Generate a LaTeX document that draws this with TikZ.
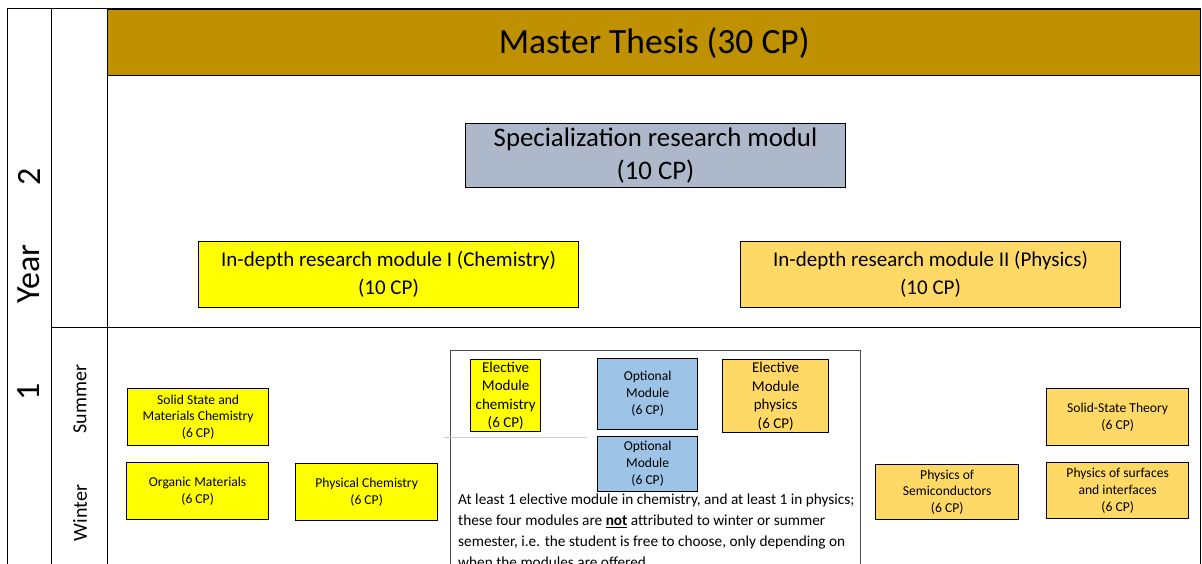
\documentclass[tikz,border=0pt]{standalone}
\usepackage{fontspec}
\setmainfont{Carlito}
\begin{document}
\begin{tikzpicture}[x=1pt,y=-1pt,
  box/.style={draw=black,line width=1.3pt,align=center,inner sep=0pt,anchor=north west},
  frame/.style={draw=black,line width=1pt},
  gold/.style={fill=thesisgold},
  ylw/.style={fill=chemyellow},
  org/.style={fill=physorange},
  blu/.style={fill=optblue},
  small/.style={font=\fontsize{13.6}{16.8}\selectfont},
  opt/.style={font=\fontsize{13.6}{17}\selectfont},
  elec/.style={font=\fontsize{15}{18.5}\selectfont}
]
\definecolor{thesisgold}{HTML}{BF9000}
\definecolor{chemyellow}{HTML}{FFFF00}
\definecolor{physorange}{HTML}{FFD966}
\definecolor{optblue}{HTML}{9DC3E6}
\definecolor{specgray}{HTML}{ADB9CA}
\useasboundingbox (0,0) rectangle (1202,564);
\clip (0,0) rectangle (1202,564);
% frame
\draw[frame] (7,9) rectangle (1200,600);
\draw[frame] (51,9) -- (51,600);
\draw[frame] (107,9) -- (107,600);
\draw[frame] (51,327) -- (1200,327);
% master thesis
\node[box,gold,minimum width=1093pt,minimum height=66pt,font=\fontsize{35.5}{40}\selectfont] (thesis) at (107,9) {Master Thesis (30 CP)};
% year 2
\node[box,fill=specgray,line width=1pt,minimum width=380pt,minimum height=64pt,font=\fontsize{26.8}{33}\selectfont] (spec) at (465,123) {Specialization research modul\\(10 CP)};
\node[box,ylw,line width=1pt,minimum width=380pt,minimum height=66pt,font=\fontsize{21}{27.5}\selectfont] (chem2) at (198,241) {In-depth research module I (Chemistry)\\(10 CP)};
\node[box,org,line width=1pt,minimum width=380pt,minimum height=66pt,font=\fontsize{21}{27.5}\selectfont] (phys2) at (740,241) {In-depth research module II (Physics)\\(10 CP)};
% left labels
\node[rotate=90,font=\fontsize{34}{38}\selectfont] (yr) at (29,274) {Year};
\node[rotate=90,font=\fontsize{34}{38}\selectfont] (y2) at (29,177) {2};
\node[rotate=90,font=\fontsize{34}{38}\selectfont] (y1) at (29,392) {1};
\node[rotate=90,font=\fontsize{20}{24}\selectfont] (summer) at (80,399) {Summer};
\node[rotate=90,font=\fontsize{20}{24}\selectfont] (winter) at (80,513) {Winter};
% year 1 chemistry
\node[box,ylw,small,minimum width=141pt,minimum height=57pt] (ssmc) at (127,388) {Solid State and\\Materials Chemistry\\(6 CP)};
\node[box,ylw,small,minimum width=142pt,minimum height=57pt] (orgm) at (126,462) {Organic Materials\\(6 CP)};
\node[box,ylw,small,minimum width=142pt,minimum height=57pt] (pchem) at (295,463) {Physical Chemistry\\(6 CP)};
% central elective area
\draw[draw=black!70,line width=1pt] (450,350) rectangle (860,600);
\draw[draw=black!20,line width=0.6pt] (444,437) -- (587,437);
\node[box,ylw,elec,minimum width=70pt,minimum height=72pt] (elchem) at (470,359) {Elective\\Module\\chemistry\\(6 CP)};
\node[box,blu,opt,minimum width=100pt,minimum height=71pt] (opt1) at (597,358) {Optional\\Module\\(6 CP)};
\node[box,org,elec,minimum width=106pt,minimum height=73pt] (elphys) at (722,359) {Elective\\Module\\physics\\(6 CP)};
\node[box,blu,opt,minimum width=100pt,minimum height=55pt] (opt2) at (597,436) {Optional\\Module\\(6 CP)};
\node[anchor=north west,align=left,inner sep=0pt,font=\fontsize{15.3}{21}\selectfont] (note) at (458,494) {At least 1 elective module in chemistry, and at least 1 in physics;\\these four modules are \underline{\textbf{not}} attributed to winter or summer\\semester, i.e. the student is free to choose, only depending on\\when the modules are offered.};
% year 1 physics
\node[box,org,small,minimum width=143pt,minimum height=55pt] (semi) at (875,464) {Physics of\\Semiconductors\\(6 CP)};
\node[box,org,small,minimum width=142pt,minimum height=57pt] (sst) at (1046,388) {Solid-State Theory\\(6 CP)};
\node[box,org,small,minimum width=142pt,minimum height=56pt] (surf) at (1046,462) {Physics of surfaces\\and interfaces\\(6 CP)};
\end{tikzpicture}
\end{document}
